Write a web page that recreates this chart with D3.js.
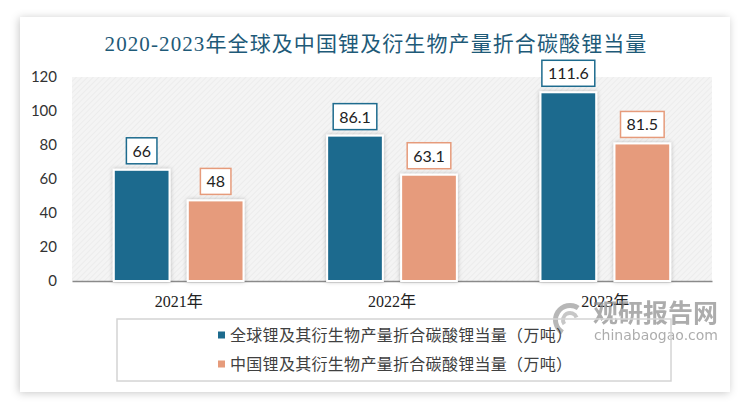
<!DOCTYPE html>
<html><head><meta charset="utf-8">
<script src="https://cdn.jsdelivr.net/npm/d3@7"></script>
<style>html,body{margin:0;padding:0;background:#fff;}svg{display:block;}</style>
</head><body>
<svg id="chart" width="750" height="409"></svg>
<script>
const title = "2020-2023年全球及中国锂及衍生物产量折合碳酸锂当量";
const years = ["2021年", "2022年", "2023年"];
const seriesNames = ["全球锂及其衍生物产量折合碳酸锂当量（万吨）", "中国锂及其衍生物产量折合碳酸锂当量（万吨）"];
const globalValues = [66, 86.1, 111.6];
const chinaValues = [48, 63.1, 81.5];
const yTicks = [0, 20, 40, 60, 80, 100, 120];
const colors = ["#1d6b8e", "#e69b7b"];

const svg = d3.select("#chart");
const defs = svg.append("defs");
const sh = defs.append("filter").attr("id","cardShadow").attr("x","-10%").attr("y","-10%").attr("width","120%").attr("height","120%");
sh.append("feDropShadow").attr("dx",-1).attr("dy",1).attr("stdDeviation",4).attr("flood-color","#000").attr("flood-opacity",0.22);
const bs = defs.append("filter").attr("id","barShadow").attr("x","-20%").attr("y","-10%").attr("width","140%").attr("height","120%");
bs.append("feDropShadow").attr("dx",0).attr("dy",0).attr("stdDeviation",2).attr("flood-color","#000").attr("flood-opacity",0.25);
const pat = defs.append("pattern").attr("id","hatch").attr("patternUnits","userSpaceOnUse").attr("width",4).attr("height",4).attr("patternTransform","rotate(45)");
pat.append("rect").attr("width",4).attr("height",4).attr("fill","#f4f4f4");
pat.append("line").attr("x1",0).attr("y1",0).attr("x2",0).attr("y2",4).attr("stroke","#e8e8e8").attr("stroke-width",1.2);

// card
svg.append("rect").attr("x",20).attr("y",17).attr("width",710).attr("height",375).attr("fill","#fff").attr("filter","url(#cardShadow)");

// title
svg.append("text").attr("x",376).attr("y",51).attr("text-anchor","middle")
  .attr("font-family","'Liberation Serif','Noto Sans CJK SC',serif").attr("font-size",21)
  .attr("letter-spacing",1.1).attr("fill","#1e5a78").attr("font-weight","normal").text(title);

const plot = {left:72, right:712, top:77, bottom:281};
const y = d3.scaleLinear().domain([0,120]).range([plot.bottom, plot.top]);
const x0 = d3.scaleBand().domain(years).range([plot.left, plot.right]);
const x1 = d3.scaleBand().domain([0,1]).range([-74,74]).paddingInner(0.22).paddingOuter(0.11);

svg.append("rect").attr("x",plot.left).attr("y",plot.top).attr("width",plot.right-plot.left).attr("height",plot.bottom-plot.top).attr("fill","url(#hatch)");

// y axis labels
const yAxis = d3.axisLeft(y).tickValues(yTicks).tickSize(0).tickPadding(0);
const ya = svg.append("g").attr("transform","translate(57,0)").call(yAxis);
ya.select(".domain").remove();
ya.selectAll("text").attr("font-family","Lato,'Noto Sans',sans-serif").attr("font-size",15).attr("fill","#333");

// x axis
const xAxis = d3.axisBottom(x0).tickSize(0).tickPadding(0);
const xa = svg.append("g").attr("transform",`translate(0,${plot.bottom})`).call(xAxis);
xa.select(".domain").attr("stroke","#8a8a8a").attr("stroke-width",1.5);
xa.selectAll("text").attr("dy",0).attr("y",26).attr("font-family","'Liberation Serif','Noto Sans CJK SC',serif").attr("font-size",16).attr("fill","#222");

// bars
const data = [globalValues, chinaValues];
data.forEach((vals, si) => {
  const g = svg.append("g");
  years.forEach((yr, i) => {
    const cx = x0(yr) + x0.bandwidth()/2;
    const bx = cx + x1(si);
    g.append("rect").attr("x",bx+1).attr("y",y(vals[i])+1).attr("width",x1.bandwidth()-2).attr("height",y(0)-y(vals[i])-1)
      .attr("fill",colors[si]).attr("stroke","#fff").attr("stroke-width",2).attr("filter","url(#barShadow)");
    const lx = bx + x1.bandwidth()/2;
    const t = g.append("text").attr("x",lx).attr("y",y(vals[i]) - 5 - 7).attr("text-anchor","middle")
      .attr("font-family","Lato,'Noto Sans',sans-serif").attr("font-size",16).attr("fill","#222").text(vals[i]);
    const w = t.node().getComputedTextLength() + 12;
    g.insert("rect", () => t.node()).attr("x",lx - w/2).attr("y",y(vals[i]) - 5 - 26).attr("width",w).attr("height",26)
      .attr("fill","#fff").attr("stroke",colors[si]).attr("stroke-width",1.5);
  });
});

// watermark
const wm = svg.append("g").attr("opacity",0.7);
wm.append("path").attr("d", d3.arc()({innerRadius:12,outerRadius:17,startAngle:-2.6,endAngle:0.6})).attr("transform","translate(570,320)").attr("fill","#9a9a9a");
wm.append("path").attr("d", d3.arc()({innerRadius:5,outerRadius:9,startAngle:-2.2,endAngle:1.2})).attr("transform","translate(570,320)").attr("fill","#b0b0b0");
wm.append("text").attr("x",718).attr("y",322).attr("text-anchor","end").attr("font-family","'Noto Sans CJK SC',sans-serif").attr("font-weight","bold").attr("font-size",25).attr("fill","#8a8a8a").text("观研报告网");
wm.append("text").attr("x",718).attr("y",340).attr("text-anchor","end").attr("font-family","'DejaVu Sans',sans-serif").attr("font-size",14).attr("fill","#8a8a8a").text("chinabaogao.com");

// legend
svg.append("rect").attr("x",117).attr("y",319).attr("width",554).attr("height",62).attr("fill","none").attr("stroke","#d4d4d4").attr("stroke-width",1.5);
const leg = svg.append("g");
seriesNames.forEach((n, i) => {
  const ly = 335 + i*29;
  leg.append("rect").attr("x",218).attr("y",ly-3.5).attr("width",7).attr("height",7).attr("fill",colors[i]);
  leg.append("text").attr("x",230).attr("y",ly).attr("dy","0.35em").attr("font-family","'Noto Sans CJK SC',sans-serif").attr("font-size",16).attr("letter-spacing",0.3).attr("fill","#404040").text(n);
});
</script>
</body></html>
